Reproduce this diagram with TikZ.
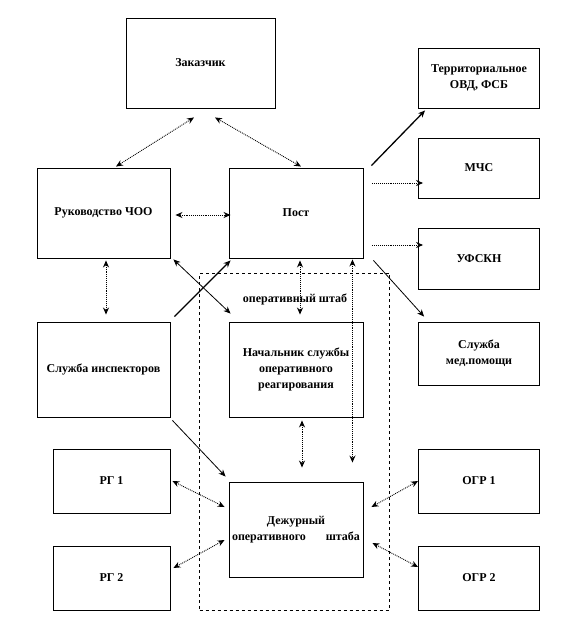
\documentclass[tikz,border=0pt]{standalone}
\usepackage{fontspec}
\setmainfont{Liberation Serif}
\usepackage{tikz}
\usetikzlibrary{arrows.meta,positioning}

\begin{document}
\begin{tikzpicture}[
x=1pt, y=-1pt,
font=\bfseries\fontsize{12}{16}\selectfont,
box/.style={draw, line width=0.9pt, align=center, inner sep=0pt},
twoway/.style={densely dotted, line width=0.9pt, <->, >={Stealth[length=7pt,width=6pt]}},
oneway/.style={densely dotted, line width=0.9pt, ->, >={Stealth[length=7pt,width=6pt]}},
solidway/.style={line width=0.8pt, ->, >={Stealth[length=7pt,width=6pt]}}
]
    % frame
    \useasboundingbox (0,0) rectangle (573,618);

    % operational staff area
    \node[draw, dashed, line width=0.8pt, minimum width=190pt, minimum height=337pt] (shtab) at (294.5,441.5) {};
    \node (shtablabel) at (295,299) {оперативный штаб};

    % boxes
    \node[box, minimum width=149pt, minimum height=90pt] (zak) at (200.5,63) {Заказчик};
    \node[box, minimum width=121pt, minimum height=60pt] (ter) at (479,78) {Территориальное\\ОВД, ФСБ};
    \node[box, minimum width=121pt, minimum height=60pt] (mchs) at (479,168) {МЧС};
    \node[box, minimum width=121pt, minimum height=61pt] (ufskn) at (479,258.5) {УФСКН};
    \node[box, minimum width=133pt, minimum height=90pt] (ruk) at (103.5,213) {Руководство ЧОО};
    \node[box, minimum width=134pt, minimum height=90pt] (post) at (296,213) {Пост};
    \node[box, minimum width=133pt, minimum height=95pt] (insp) at (103.5,369.5) {Служба инспекторов};
    \node[box, minimum width=134pt, minimum height=95pt] (nach) at (296,369.5) {Начальник службы\\оперативного\\реагирования};
    \node[box, minimum width=121pt, minimum height=63pt] (med) at (479,353.5) {Служба\\мед.помощи};
    \node[box, minimum width=117pt, minimum height=64pt] (rg1) at (111.5,481) {РГ 1};
    \node[box, minimum width=117pt, minimum height=64pt] (rg2) at (111.5,578) {РГ 2};
    \node[box, minimum width=134pt, minimum height=95pt] (dezh) at (296,529.5) {Дежурный\\\makebox[128pt][s]{оперативного штаба}};
    \node[box, minimum width=121pt, minimum height=64pt] (ogr1) at (479,481) {ОГР 1};
    \node[box, minimum width=121pt, minimum height=64pt] (ogr2) at (479,578) {ОГР 2};

    % top links
    \draw[twoway] ([shift={(-6.5,9)}]zak.south) -- ([shift={(12.5,-1)}]ruk.north);
    \draw[twoway] ([shift={(14.5,9)}]zak.south) -- ([shift={(5,-1)}]post.north);
    \draw[twoway] ([shift={(5,2)}]ruk.east) -- ([shift={(2,2)}]post.west);

    % outside services
    \draw[solidway, line width=1.3pt] ([shift={(8,-2)}]post.north east) -- ([shift={(7,2)}]ter.south west);
    \draw[oneway] ([shift={(9,-30)}]post.east) -- ([shift={(5,15)}]mchs.west);
    \draw[oneway] ([shift={(9,32)}]post.east) -- ([shift={(5,-13.5)}]ufskn.west);
    \draw[solidway] ([shift={(10,2)}]post.south east) -- ([shift={(6,-5)}]med.north west);

    % middle links
    \draw[twoway] ([shift={(2.5,2)}]ruk.south) -- ([shift={(2.5,-7)}]insp.north);
    \draw[solidway, <->] ([shift={(3,1)}]ruk.south east) -- ([shift={(2,-8)}]nach.north west);
    \draw[solidway, line width=1.3pt] ([shift={(4,-5)}]insp.north east) -- ([shift={(2,2)}]post.south west);
    \draw[twoway] ([shift={(4,2)}]post.south) -- ([shift={(4,-7)}]nach.north);
    \draw[twoway] ([shift={(-11,1)}]post.south east) -- ([shift={(-11,-19)}]dezh.north east);
    \draw[twoway] ([shift={(6,3)}]nach.south) -- ([shift={(6,-14)}]dezh.north);
    \draw[solidway] ([shift={(2,3)}]insp.south east) -- ([shift={(-3,-5)}]dezh.north west);

    % groups
    \draw[twoway] ([xshift=2pt]rg1.east) -- ([shift={(-4,-22.5)}]dezh.west);
    \draw[twoway] ([shift={(3,-10)}]rg2.east) -- ([shift={(-4,10.5)}]dezh.west);
    \draw[twoway] (ogr1.west) -- ([shift={(8,-22.5)}]dezh.east);
    \draw[twoway] ([shift={(0,-11)}]ogr2.west) -- ([shift={(9,13.5)}]dezh.east);

\end{tikzpicture}
\end{document}
